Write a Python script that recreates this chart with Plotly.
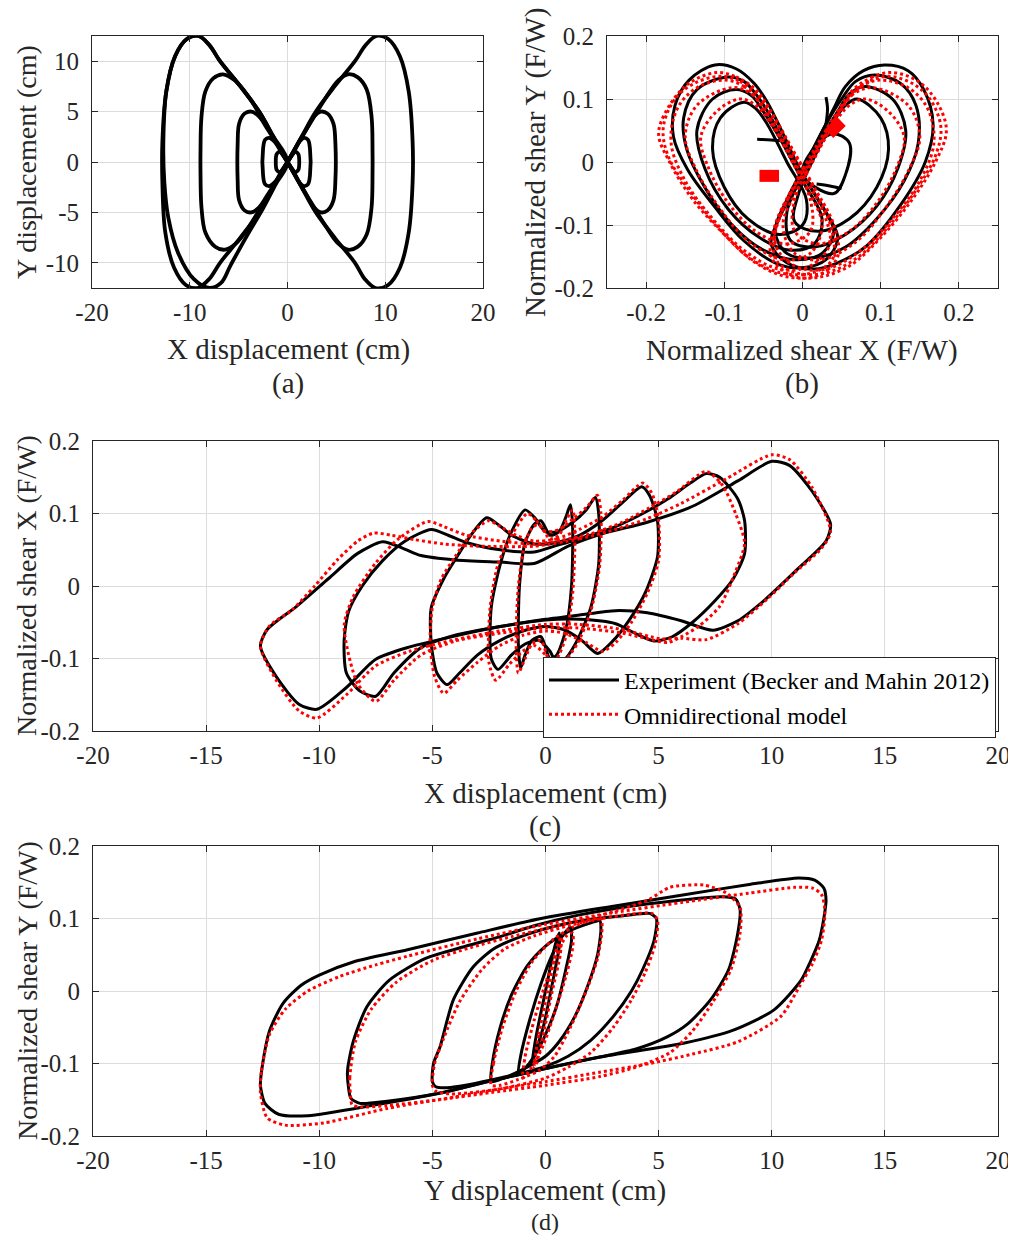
import plotly.graph_objects as go

PAGE_W, PAGE_H = 1016, 1249
BODY = 8  # default page margin around the figure
W, H = PAGE_W - BODY, PAGE_H - 2 * BODY - 4

# ---------------- Panel (a): X vs Y displacement (cm), experiment orbit ----------------
A_ORBIT_125 = [(0, 0), (1.5, 2.6), (2.9, 5.0), (4.9, 7.6), (6.9, 10.0), (8.0, 11.6), (9.1, 12.5), (10.3, 12.2),
               (11.5, 10.5), (12.4, 7.0), (12.8, 2.0), (12.8, -2.0), (12.4, -7.0), (11.5, -10.5), (10.3, -12.2),
               (9.0, -12.5), (7.9, -11.6), (6.9, -10.0), (4.9, -7.6), (2.9, -5.0), (1.5, -2.6), (0, 0),
               (-1.5, 2.6), (-2.9, 5.0), (-4.9, 7.6), (-6.9, 10.0), (-8.0, 11.6), (-9.1, 12.5), (-10.3, 12.2),
               (-11.5, 10.5), (-12.4, 7.0), (-12.8, 2.0), (-12.8, -2.0), (-12.5, -7.0), (-11.6, -10.5),
               (-10.4, -12.2), (-9.2, -12.5), (-8.0, -11.6), (-6.9, -10.0), (-4.9, -7.6), (-2.9, -5.0),
               (-1.5, -2.6), (0, 0)]
A_ORBIT_125B = [(0, 0), (-1.5, 2.6), (-2.9, 5.0), (-4.9, 7.6), (-6.9, 10.0), (-8.0, 11.6), (-9.1, 12.5),
                (-10.3, 12.2), (-11.5, 10.5), (-12.4, 7.0), (-12.7, 2.0), (-12.6, -2.0), (-12.2, -5.5),
                (-11.2, -9.0), (-9.6, -11.6), (-8.0, -12.5), (-6.8, -12.0), (-5.8, -10.2), (-4.2, -7.4),
                (-2.5, -4.6), (-1.2, -2.2), (0, 0)]
A_ORBIT_87 = [(0, 0), (1.3, 2.2), (2.6, 4.3), (4.0, 6.5), (5.2, 8.1), (6.2, 8.7), (7.2, 8.4), (8.1, 7.2),
              (8.6, 4.5), (8.7, 1.0), (8.7, -1.0), (8.6, -4.5), (8.1, -7.2), (7.2, -8.4), (6.2, -8.7),
              (5.2, -8.1), (4.0, -6.5), (2.6, -4.3), (1.3, -2.2), (0, 0), (-1.3, 2.2), (-2.6, 4.3),
              (-4.0, 6.5), (-5.4, 8.1), (-6.6, 8.7), (-7.6, 8.3), (-8.4, 7.0), (-8.8, 4.5), (-8.9, 1.0),
              (-8.9, -1.0), (-8.8, -4.5), (-8.4, -7.0), (-7.4, -8.4), (-6.4, -8.7), (-5.3, -8.1),
              (-4.0, -6.5), (-2.6, -4.3), (-1.3, -2.2), (0, 0)]
A_ORBIT_49 = [(0, 0), (0.9, 1.5), (1.9, 3.2), (2.7, 4.5), (3.4, 5.0), (4.1, 4.8), (4.7, 3.8), (4.9, 1.8),
              (4.9, -1.8), (4.7, -3.8), (4.1, -4.8), (3.4, -5.0), (2.7, -4.5), (1.9, -3.2), (0.9, -1.5), (0, 0),
              (-0.9, 1.5), (-2.0, 3.2), (-2.9, 4.5), (-3.7, 5.0), (-4.4, 4.8), (-4.95, 3.8), (-5.1, 1.8),
              (-5.1, -1.8), (-4.95, -3.8), (-4.4, -4.8), (-3.7, -5.0), (-2.9, -4.5), (-2.0, -3.2),
              (-0.9, -1.5), (0, 0)]
A_ORBIT_24 = [(0, 0), (0.6, 0.9), (1.2, 2.0), (1.7, 2.4), (2.1, 2.2), (2.3, 1.3), (2.3, -1.3), (2.1, -2.2),
              (1.7, -2.4), (1.2, -2.0), (0.6, -0.9), (0, 0), (-0.6, 0.9), (-1.3, 2.0), (-1.9, 2.4),
              (-2.3, 2.2), (-2.5, 1.3), (-2.5, -1.3), (-2.3, -2.2), (-1.9, -2.4), (-1.3, -2.0),
              (-0.6, -0.9), (0, 0)]
A_ORBIT_12 = [(0, 0), (0.4, 0.6), (0.8, 1.0), (1.1, 0.8), (1.2, 0.0), (1.1, -0.8), (0.8, -1.0), (0.4, -0.6),
              (0, 0), (-0.4, 0.6), (-0.8, 1.0), (-1.1, 0.8), (-1.2, 0.0), (-1.1, -0.8), (-0.8, -1.0),
              (-0.4, -0.6), (0, 0)]

# ---------------- Panel (b): normalized shear X vs Y (F/W) ----------------
B_EXP_L1 = [(-0.112, 0.154), (-0.085, 0.148), (-0.062, 0.125), (-0.045, 0.095), (-0.025, 0.045), (0.0, -0.02),
            (0.03, -0.08), (0.045, -0.12), (0.03, -0.155), (0.0, -0.168), (-0.03, -0.163), (-0.075, -0.125),
            (-0.113, -0.07), (-0.147, -0.012), (-0.165, 0.04), (-0.163, 0.09), (-0.145, 0.13), (-0.112, 0.154)]
B_EXP_L2 = [(-0.096, 0.135), (-0.075, 0.128), (-0.058, 0.105), (-0.04, 0.07), (-0.015, 0.01), (0.02, -0.06),
            (0.04, -0.11), (0.025, -0.145), (-0.01, -0.155), (-0.05, -0.14), (-0.09, -0.1), (-0.125, -0.04),
            (-0.148, 0.02), (-0.152, 0.07), (-0.135, 0.115), (-0.096, 0.135)]
B_EXP_L3 = [(-0.085, 0.115), (-0.065, 0.105), (-0.05, 0.08), (-0.03, 0.04), (0.0, -0.03), (0.025, -0.09),
            (0.015, -0.13), (-0.015, -0.14), (-0.055, -0.12), (-0.095, -0.075), (-0.125, -0.01),
            (-0.135, 0.05), (-0.115, 0.1), (-0.085, 0.115)]
B_EXP_L4 = [(-0.075, 0.095), (-0.06, 0.085), (-0.045, 0.06), (-0.02, 0.0), (0.005, -0.06), (0.0, -0.1),
            (-0.03, -0.115), (-0.07, -0.09), (-0.1, -0.04), (-0.115, 0.02), (-0.105, 0.07), (-0.075, 0.095)]
B_EXP_R1 = [(0.105, 0.154), (0.078, 0.145), (0.055, 0.12), (0.04, 0.085), (0.02, 0.035), (-0.005, -0.03),
            (-0.03, -0.09), (-0.04, -0.13), (-0.02, -0.16), (0.015, -0.17), (0.045, -0.16), (0.082, -0.133),
            (0.125, -0.069), (0.157, 0.0), (0.167, 0.06), (0.155, 0.115), (0.135, 0.145), (0.105, 0.154)]
B_EXP_R2 = [(0.092, 0.138), (0.068, 0.128), (0.05, 0.1), (0.03, 0.06), (0.005, 0.0), (-0.02, -0.06),
            (-0.035, -0.11), (-0.02, -0.145), (0.015, -0.152), (0.055, -0.135), (0.095, -0.09), (0.13, -0.03),
            (0.148, 0.03), (0.145, 0.09), (0.125, 0.125), (0.092, 0.138)]
B_EXP_R3 = [(0.08, 0.12), (0.06, 0.108), (0.045, 0.08), (0.025, 0.04), (0.0, -0.02), (-0.02, -0.08),
            (-0.015, -0.125), (0.015, -0.135), (0.055, -0.115), (0.095, -0.07), (0.122, -0.01), (0.132, 0.05),
            (0.115, 0.1), (0.08, 0.12)]
B_EXP_R4 = [(0.07, 0.1), (0.055, 0.09), (0.04, 0.065), (0.02, 0.02), (-0.005, -0.05), (-0.01, -0.095),
            (0.02, -0.11), (0.06, -0.09), (0.095, -0.04), (0.11, 0.02), (0.1, 0.07), (0.07, 0.1)]
B_EXP_C1 = [(0.0, -0.02), (0.02, 0.03), (0.04, 0.045), (0.06, 0.03), (0.055, -0.02), (0.04, -0.05), (0.0, -0.02)]
B_EXP_C2 = [(-0.058, 0.036), (-0.04, 0.035), (-0.02, 0.033)]
B_EXP_C3 = [(0.03, 0.06), (0.032, 0.085), (0.03, 0.103)]
B_EXP_C4 = [(0.018, -0.035), (0.035, -0.038), (0.05, -0.042)]

B_MOD_L1 = [(-0.11, 0.142), (-0.085, 0.135), (-0.06, 0.115), (-0.04, 0.08), (-0.015, 0.025), (0.015, -0.04),
            (0.04, -0.1), (0.045, -0.15), (0.02, -0.18), (-0.02, -0.182), (-0.06, -0.16), (-0.1, -0.115),
            (-0.14, -0.06), (-0.17, 0.0), (-0.184, 0.045), (-0.17, 0.09), (-0.145, 0.125), (-0.11, 0.142)]
B_MOD_L1B = [(-0.105, 0.136), (-0.08, 0.128), (-0.058, 0.108), (-0.04, 0.075), (-0.012, 0.015), (0.018, -0.05),
             (0.038, -0.11), (0.038, -0.155), (0.012, -0.176), (-0.028, -0.176), (-0.068, -0.152),
             (-0.107, -0.105), (-0.145, -0.045), (-0.172, 0.01), (-0.178, 0.055), (-0.163, 0.1),
             (-0.138, 0.125), (-0.105, 0.136)]
B_MOD_L2 = [(-0.1, 0.13), (-0.075, 0.12), (-0.055, 0.095), (-0.035, 0.055), (-0.005, -0.01), (0.025, -0.075),
            (0.035, -0.13), (0.01, -0.165), (-0.03, -0.17), (-0.075, -0.14), (-0.115, -0.09), (-0.15, -0.03),
            (-0.168, 0.03), (-0.16, 0.085), (-0.135, 0.118), (-0.1, 0.13)]
B_MOD_L3 = [(-0.09, 0.118), (-0.065, 0.108), (-0.048, 0.08), (-0.025, 0.03), (0.005, -0.04), (0.025, -0.1),
            (0.01, -0.145), (-0.025, -0.155), (-0.07, -0.125), (-0.105, -0.075), (-0.135, -0.015),
            (-0.15, 0.04), (-0.135, 0.09), (-0.09, 0.118)]
B_MOD_L4 = [(-0.08, 0.1), (-0.06, 0.09), (-0.04, 0.06), (-0.015, 0.005), (0.01, -0.06), (0.01, -0.11),
            (-0.02, -0.13), (-0.06, -0.11), (-0.095, -0.065), (-0.12, -0.01), (-0.13, 0.04), (-0.11, 0.08),
            (-0.08, 0.1)]
B_MOD_R1 = [(0.115, 0.142), (0.09, 0.135), (0.065, 0.115), (0.045, 0.08), (0.02, 0.03), (-0.01, -0.035),
            (-0.035, -0.1), (-0.04, -0.15), (-0.015, -0.18), (0.02, -0.183), (0.06, -0.165), (0.1, -0.12),
            (0.14, -0.06), (0.17, 0.0), (0.184, 0.05), (0.172, 0.095), (0.148, 0.128), (0.115, 0.142)]
B_MOD_R1B = [(0.11, 0.136), (0.085, 0.128), (0.062, 0.108), (0.044, 0.075), (0.015, 0.015), (-0.015, -0.05),
             (-0.035, -0.11), (-0.034, -0.155), (-0.008, -0.176), (0.03, -0.176), (0.07, -0.152),
             (0.108, -0.105), (0.145, -0.045), (0.17, 0.01), (0.177, 0.055), (0.163, 0.1), (0.14, 0.125),
             (0.11, 0.136)]
B_MOD_R2 = [(0.1, 0.13), (0.075, 0.12), (0.055, 0.095), (0.035, 0.055), (0.005, -0.01), (-0.025, -0.075),
            (-0.035, -0.13), (-0.01, -0.165), (0.03, -0.17), (0.075, -0.14), (0.115, -0.09), (0.15, -0.03),
            (0.168, 0.03), (0.16, 0.085), (0.135, 0.118), (0.1, 0.13)]
B_MOD_R3 = [(0.09, 0.118), (0.065, 0.108), (0.048, 0.08), (0.025, 0.03), (-0.005, -0.04), (-0.025, -0.1),
            (-0.01, -0.145), (0.025, -0.155), (0.07, -0.125), (0.105, -0.075), (0.135, -0.015), (0.15, 0.04),
            (0.135, 0.09), (0.09, 0.118)]
B_MOD_R4 = [(0.08, 0.1), (0.06, 0.09), (0.04, 0.06), (0.015, 0.005), (-0.01, -0.06), (-0.01, -0.11),
            (0.02, -0.13), (0.06, -0.11), (0.095, -0.065), (0.12, -0.01), (0.13, 0.04), (0.11, 0.08), (0.08, 0.1)]
B_MOD_BLOB1 = [(-0.055, -0.022), (-0.03, -0.022)]
B_MOD_BLOB2 = [(0.034, 0.045), (0.05, 0.064)]

# ---------------- Panel (c): X displacement (cm) vs normalized shear X ----------------
C_EXP_125 = [(-0.5, 0.031), (1.0, 0.055), (2.5, 0.072), (4.5, 0.088), (6.5, 0.11), (8.5, 0.145), (10.0, 0.172),
             (10.8, 0.166), (11.8, 0.13), (12.6, 0.085), (12.4, 0.062), (11.2, 0.025), (9.7, -0.019),
             (8.5, -0.048), (7.4, -0.061), (6.0, -0.048), (4.5, -0.037), (3.1, -0.034), (1.5, -0.04),
             (0.0, -0.046), (-2.0, -0.056), (-4.0, -0.069), (-6.0, -0.084), (-7.5, -0.101), (-8.8, -0.14),
             (-10.1, -0.17), (-10.9, -0.163), (-11.9, -0.125), (-12.6, -0.083), (-12.3, -0.06), (-11.0, -0.028),
             (-9.6, 0.01), (-8.3, 0.045), (-7.2, 0.061), (-6.3, 0.052), (-5.5, 0.042), (-4.0, 0.036),
             (-2.0, 0.033), (-0.5, 0.031)]
C_EXP_87 = [(-0.5, 0.047), (0.5, 0.056), (2.0, 0.07), (3.1, 0.082), (4.3, 0.1), (5.4, 0.12), (6.4, 0.142),
            (7.1, 0.155), (7.7, 0.15), (8.5, 0.12), (8.8, 0.09), (8.8, 0.045), (8.3, 0.01), (7.5, -0.02),
            (6.5, -0.05), (5.6, -0.07), (4.8, -0.076), (4.0, -0.066), (3.1, -0.052), (1.5, -0.046),
            (0.0, -0.047), (-2.0, -0.056), (-4.0, -0.068), (-5.5, -0.085), (-6.7, -0.12), (-7.5, -0.152),
            (-8.2, -0.145), (-8.8, -0.12), (-8.9, -0.075), (-8.7, -0.035), (-8.1, 0.0), (-7.2, 0.035),
            (-6.2, 0.062), (-5.05, 0.078), (-4.3, 0.07), (-3.5, 0.06), (-2.0, 0.05), (-0.5, 0.047)]
C_EXP_49 = [(-0.5, 0.058), (0.5, 0.06), (1.5, 0.07), (2.5, 0.09), (3.4, 0.115), (4.25, 0.137), (4.6, 0.125),
            (4.95, 0.09), (4.95, 0.04), (4.4, -0.01), (3.7, -0.047), (3.0, -0.075), (2.3, -0.093),
            (1.6, -0.075), (0.8, -0.06), (0.0, -0.056), (-1.0, -0.062), (-2.0, -0.075), (-3.0, -0.095),
            (-3.8, -0.12), (-4.35, -0.136), (-4.8, -0.12), (-5.05, -0.08), (-5.05, -0.03), (-4.5, 0.01),
            (-4.0, 0.036), (-3.3, 0.07), (-2.6, 0.094), (-2.1, 0.085), (-1.5, 0.07), (-0.5, 0.058)]
C_EXP_24 = [(-0.9, 0.105), (-0.5, 0.095), (0.0, 0.075), (0.5, 0.075), (1.2, 0.088), (1.8, 0.105), (2.2, 0.122),
            (2.35, 0.1), (2.35, 0.03), (2.0, -0.03), (1.4, -0.075), (0.9, -0.1), (0.55, -0.11), (0.2, -0.09),
            (-0.3, -0.075), (-0.9, -0.08), (-1.5, -0.095), (-2.1, -0.115), (-2.4, -0.1), (-2.4, -0.03),
            (-2.0, 0.03), (-1.5, 0.075), (-0.9, 0.105)]
C_EXP_12 = [(-0.2, 0.09), (0.2, 0.07), (0.6, 0.075), (0.9, 0.095), (1.1, 0.112), (1.2, 0.08), (1.15, 0.0),
            (0.9, -0.06), (0.5, -0.095), (0.2, -0.1), (-0.2, -0.07), (-0.6, -0.075), (-0.9, -0.095),
            (-1.1, -0.113), (-1.2, -0.08), (-1.15, 0.0), (-0.9, 0.06), (-0.5, 0.085), (-0.2, 0.09)]

C_MOD_125 = [(-0.5, 0.055), (1.5, 0.065), (3.1, 0.078), (4.5, 0.093), (6.0, 0.114), (8.0, 0.148), (10.0, 0.181),
             (10.8, 0.174), (11.8, 0.135), (12.6, 0.075), (12.2, 0.052), (11.0, 0.018), (9.8, -0.018),
             (8.5, -0.052), (7.1, -0.074), (6.0, -0.072), (5.1, -0.073), (3.4, -0.06), (1.5, -0.053),
             (0.0, -0.053), (-2.0, -0.062), (-4.0, -0.074), (-6.0, -0.09), (-7.5, -0.11), (-8.8, -0.15),
             (-10.1, -0.182), (-10.9, -0.172), (-11.9, -0.13), (-12.6, -0.083), (-12.2, -0.055),
             (-11.2, -0.033), (-10.2, 0.0), (-9.2, 0.036), (-8.3, 0.062), (-7.6, 0.073), (-6.8, 0.07),
             (-5.8, 0.064), (-4.5, 0.058), (-3.0, 0.055), (-0.5, 0.055)]
C_MOD_87 = [(-0.5, 0.058), (0.5, 0.062), (2.0, 0.072), (3.4, 0.088), (4.6, 0.108), (5.8, 0.13), (7.1, 0.158),
            (7.8, 0.14), (8.4, 0.1), (8.8, 0.059), (8.4, 0.02), (7.7, -0.028), (6.8, -0.055), (6.0, -0.07),
            (5.4, -0.078), (4.4, -0.072), (3.4, -0.065), (1.5, -0.058), (0.0, -0.058), (-2.0, -0.065),
            (-4.0, -0.076), (-5.5, -0.095), (-6.7, -0.13), (-7.5, -0.159), (-8.3, -0.135), (-8.9, -0.055),
            (-8.5, -0.015), (-7.5, 0.032), (-6.5, 0.065), (-5.2, 0.089), (-4.5, 0.082), (-3.5, 0.07),
            (-2.0, 0.062), (-0.5, 0.058)]
C_MOD_49 = [(-0.5, 0.062), (0.5, 0.065), (1.5, 0.078), (2.5, 0.095), (3.4, 0.118), (4.3, 0.142), (4.7, 0.128),
            (5.0, 0.09), (5.0, 0.035), (4.5, -0.01), (3.8, -0.05), (3.1, -0.078), (2.5, -0.09), (1.8, -0.078),
            (0.8, -0.065), (0.0, -0.062), (-1.0, -0.068), (-2.0, -0.082), (-3.0, -0.105), (-3.9, -0.13),
            (-4.5, -0.148), (-4.9, -0.125), (-5.1, -0.08), (-5.0, -0.03), (-4.6, 0.01), (-4.0, 0.04),
            (-3.2, 0.075), (-2.5, 0.09), (-2.0, 0.082), (-1.3, 0.07), (-0.5, 0.062)]
C_MOD_24 = [(-0.8, 0.1), (-0.4, 0.09), (0.0, 0.075), (0.6, 0.078), (1.2, 0.092), (1.8, 0.108), (2.3, 0.125),
            (2.45, 0.1), (2.4, 0.03), (2.0, -0.035), (1.4, -0.08), (0.8, -0.105), (0.4, -0.112), (0.0, -0.095),
            (-0.5, -0.082), (-1.0, -0.09), (-1.6, -0.108), (-2.2, -0.13), (-2.5, -0.105), (-2.45, -0.03),
            (-2.1, 0.03), (-1.5, 0.07), (-0.8, 0.1)]
C_MOD_12 = [(-0.3, 0.085), (0.2, 0.065), (0.6, 0.07), (0.9, 0.09), (1.2, 0.105), (1.3, 0.07), (1.2, -0.01),
            (0.9, -0.07), (0.5, -0.1), (0.2, -0.105), (-0.2, -0.075), (-0.6, -0.08), (-0.9, -0.1),
            (-1.2, -0.12), (-1.3, -0.08), (-1.2, 0.0), (-0.9, 0.06), (-0.6, 0.08), (-0.3, 0.085)]

# ---------------- Panel (d): Y displacement (cm) vs normalized shear Y ----------------
D_EXP_125 = [(-12.6, -0.13), (-12.5, -0.1), (-12.2, -0.055), (-11.6, -0.017), (-10.8, 0.008), (-10.0, 0.022),
             (-8.5, 0.04), (-6.1, 0.057), (-3.0, 0.08), (-0.2, 0.1), (3.0, 0.117), (6.0, 0.132), (9.0, 0.147),
             (11.2, 0.156), (11.9, 0.153), (12.3, 0.142), (12.4, 0.125), (12.3, 0.1), (12.1, 0.07),
             (11.7, 0.04), (11.3, 0.015), (10.1, -0.026), (8.3, -0.054), (6.1, -0.072), (2.4, -0.091),
             (0.0, -0.107), (-2.4, -0.124), (-4.7, -0.141), (-7.5, -0.157), (-10.5, -0.172), (-11.8, -0.17),
             (-12.4, -0.155), (-12.6, -0.13)]
D_EXP_87 = [(-8.7, -0.135), (-8.75, -0.11), (-8.5, -0.07), (-7.9, -0.022), (-6.9, 0.015), (-5.3, 0.045),
            (-3.5, 0.062), (-2.0, 0.075), (-0.5, 0.09), (1.5, 0.105), (4.0, 0.118), (6.5, 0.127), (7.8, 0.13),
            (8.4, 0.127), (8.6, 0.112), (8.5, 0.08), (8.1, 0.03), (7.3, -0.012), (6.3, -0.045), (5.4, -0.063),
            (4.0, -0.08), (2.4, -0.091), (0.0, -0.107), (-2.4, -0.124), (-4.7, -0.141), (-7.0, -0.152),
            (-8.2, -0.155), (-8.6, -0.148), (-8.7, -0.135)]
D_EXP_50 = [(-5.0, -0.125), (-4.95, -0.1), (-4.66, -0.077), (-4.07, -0.012), (-3.2, 0.033), (-2.3, 0.058),
            (-1.0, 0.076), (0.5, 0.09), (2.0, 0.099), (3.5, 0.104), (4.6, 0.107), (4.9, 0.1), (4.8, 0.07),
            (4.3, 0.03), (3.8, 0.0), (3.0, -0.035), (2.0, -0.068), (1.0, -0.09), (0.0, -0.104), (-2.0, -0.12),
            (-4.2, -0.133), (-4.85, -0.132), (-5.0, -0.125)]
D_EXP_24 = [(-2.4, -0.125), (-2.35, -0.1), (-2.0, -0.05), (-1.5, -0.005), (-0.8, 0.035), (0.0, 0.062),
            (1.0, 0.082), (2.0, 0.094), (2.4, 0.097), (2.45, 0.085), (2.3, 0.05), (1.9, 0.01), (1.3, -0.035),
            (0.6, -0.07), (0.0, -0.09), (-1.0, -0.108), (-2.0, -0.122), (-2.4, -0.125)]
D_EXP_12 = [(-1.2, -0.115), (-1.1, -0.09), (-0.7, -0.04), (-0.2, 0.01), (0.3, 0.05), (0.8, 0.078), (1.1, 0.088),
            (1.15, 0.07), (0.9, 0.03), (0.5, -0.02), (0.0, -0.06), (-0.5, -0.09), (-1.0, -0.11), (-1.2, -0.115)]
D_EXP_06 = [(-0.6, -0.1), (-0.4, -0.06), (0.0, 0.0), (0.4, 0.06), (0.6, 0.08), (0.6, 0.06), (0.3, 0.01),
            (-0.1, -0.05), (-0.5, -0.09), (-0.6, -0.1)]

D_MOD_125 = [(-12.6, -0.14), (-12.55, -0.11), (-12.2, -0.06), (-11.5, -0.025), (-10.5, 0.0), (-9.1, 0.02),
             (-7.5, 0.036), (-6.1, 0.048), (-3.0, 0.072), (0.0, 0.092), (3.0, 0.108), (6.0, 0.122),
             (9.0, 0.135), (11.0, 0.143), (11.8, 0.142), (12.2, 0.133), (12.35, 0.11), (12.2, 0.07),
             (11.8, 0.038), (11.2, 0.005), (10.4, -0.035), (8.5, -0.07), (6.5, -0.087), (4.6, -0.1),
             (2.4, -0.112), (0.0, -0.125), (-2.0, -0.135), (-4.0, -0.146), (-7.0, -0.162), (-9.8, -0.182),
             (-11.5, -0.185), (-12.3, -0.175), (-12.6, -0.14)]
D_MOD_87 = [(-8.6, -0.15), (-8.65, -0.12), (-8.4, -0.07), (-7.7, -0.025), (-6.6, 0.012), (-5.0, 0.042),
            (-3.3, 0.06), (-1.5, 0.075), (0.5, 0.09), (2.5, 0.105), (4.5, 0.125), (5.5, 0.143), (7.0, 0.146),
            (8.0, 0.135), (8.6, 0.115), (8.6, 0.08), (8.2, 0.03), (7.4, -0.015), (6.5, -0.055), (5.5, -0.085),
            (4.0, -0.105), (2.4, -0.118), (0.0, -0.13), (-2.4, -0.14), (-4.7, -0.15), (-7.0, -0.158),
            (-8.2, -0.16), (-8.55, -0.157), (-8.6, -0.15)]
D_MOD_50 = [(-5.0, -0.13), (-4.9, -0.1), (-4.5, -0.065), (-3.8, -0.015), (-2.8, 0.03), (-1.8, 0.058),
            (-0.5, 0.076), (1.0, 0.09), (2.5, 0.1), (3.8, 0.106), (4.7, 0.107), (4.95, 0.098), (4.85, 0.065),
            (4.4, 0.025), (3.8, -0.012), (3.0, -0.05), (2.0, -0.085), (1.0, -0.105), (0.0, -0.12),
            (-2.0, -0.135), (-4.2, -0.142), (-4.85, -0.138), (-5.0, -0.13)]
D_MOD_24 = [(-2.4, -0.13), (-2.3, -0.1), (-1.9, -0.05), (-1.3, 0.0), (-0.6, 0.04), (0.3, 0.07), (1.2, 0.088),
            (2.0, 0.098), (2.45, 0.1), (2.5, 0.085), (2.3, 0.045), (1.8, 0.0), (1.1, -0.05), (0.4, -0.09),
            (-0.3, -0.11), (-1.2, -0.122), (-2.0, -0.13), (-2.4, -0.13)]
D_MOD_12 = [(-1.0, -0.12), (-0.9, -0.09), (-0.5, -0.04), (0.0, 0.01), (0.5, 0.05), (0.9, 0.075), (1.2, 0.08),
            (1.2, 0.06), (0.9, 0.02), (0.4, -0.03), (-0.1, -0.075), (-0.6, -0.105), (-1.0, -0.12)]
D_MOD_06 = [(-0.5, -0.105), (-0.3, -0.06), (0.1, 0.0), (0.5, 0.06), (0.7, 0.075), (0.65, 0.05), (0.3, 0.0),
            (-0.1, -0.06), (-0.4, -0.1), (-0.5, -0.105)]

# tick labels
DISP_TICKS = [-20, -10, 0, 10, 20]
DISP_TICKS5 = [-20, -15, -10, -5, 0, 5, 10, 15, 20]
YDISP_TICKS = [-10, -5, 0, 5, 10]
SHEAR_TICKS = [-0.2, -0.1, 0, 0.1, 0.2]
SHEAR_LABELS = ["-0.2", "-0.1", "0", "0.1", "0.2"]

EXP_NAME = "Experiment (Becker and Mahin 2012)"
MOD_NAME = "Omnidirectional model"

FONT = "Liberation Serif"
TXT = "#262626"

fig = go.Figure()


def add_loops(loops, xa, ya, color, dash, width, smoothing=0.8, legend_name=None, rank=1000):
    for i, pts in enumerate(loops):
        fig.add_trace(go.Scatter(
            x=[p[0] for p in pts], y=[p[1] for p in pts], mode="lines",
            line=dict(color=color, width=width, dash=dash, shape="spline", smoothing=smoothing),
            xaxis=xa, yaxis=ya, hoverinfo="skip",
            name=legend_name if legend_name else "",
            showlegend=bool(legend_name) and i == 0, legendrank=rank))


# panel a
add_loops([A_ORBIT_125, A_ORBIT_125B, A_ORBIT_87, A_ORBIT_49, A_ORBIT_24, A_ORBIT_12],
          "x", "y", "black", "solid", 3.8, smoothing=1.0)
# panel b
add_loops([B_EXP_L1, B_EXP_L2, B_EXP_L3, B_EXP_L4, B_EXP_R1, B_EXP_R2, B_EXP_R3, B_EXP_R4,
           B_EXP_C1, B_EXP_C2, B_EXP_C3, B_EXP_C4], "x2", "y2", "black", "solid", 3, smoothing=1.0)
add_loops([B_MOD_L1, B_MOD_L1B, B_MOD_L2, B_MOD_L3, B_MOD_L4, B_MOD_R1, B_MOD_R1B, B_MOD_R2, B_MOD_R3, B_MOD_R4],
          "x2", "y2", "red", "dot", 3, smoothing=1.0)
add_loops([B_MOD_BLOB1, B_MOD_BLOB2], "x2", "y2", "red", "solid", 12, smoothing=0)
# panel c
add_loops([C_EXP_125, C_EXP_87, C_EXP_49, C_EXP_24, C_EXP_12], "x3", "y3", "black", "solid", 3,
          smoothing=0.7, legend_name=EXP_NAME, rank=1)
add_loops([C_MOD_125, C_MOD_87, C_MOD_49, C_MOD_24, C_MOD_12], "x3", "y3", "red", "dot", 3,
          smoothing=0.7, legend_name=MOD_NAME, rank=2)
# panel d
add_loops([D_EXP_125, D_EXP_87, D_EXP_50, D_EXP_24, D_EXP_12, D_EXP_06], "x4", "y4", "black", "solid", 3,
          smoothing=0.7)
add_loops([D_MOD_125, D_MOD_87, D_MOD_50, D_MOD_24, D_MOD_12, D_MOD_06], "x4", "y4", "red", "dot", 3,
          smoothing=0.7)


def fx(p):
    """page pixel -> paper fraction"""
    return (p - BODY) / W


def fy(p):
    return 1 - (p - BODY) / H


axis_common = dict(showline=True, linecolor=TXT, linewidth=1, mirror="ticks", ticks="inside", ticklen=6,
                   tickcolor=TXT, showgrid=True, gridcolor="#dcdcdc", gridwidth=1, zeroline=False,
                   tickfont=dict(family=FONT, size=25, color=TXT), fixedrange=True, automargin=False,
                   ticklabeloverflow="allow")
xcommon = dict(ticklabelstandoff=2, **axis_common)
ycommon = dict(ticklabelstandoff=7, **axis_common)

layout = dict(
    width=W, height=H, autosize=False, margin=dict(l=0, r=0, t=0, b=0, pad=0, autoexpand=False),
    paper_bgcolor="white", plot_bgcolor="white",
    xaxis=dict(domain=[fx(92), fx(483)], range=[-20, 20], tickvals=DISP_TICKS,
               ticktext=[str(v) for v in DISP_TICKS], anchor="y", **xcommon),
    yaxis=dict(domain=[fy(288), fy(36)], range=[-12.5, 12.5], tickvals=YDISP_TICKS,
               ticktext=[str(v) for v in YDISP_TICKS], anchor="x", **ycommon),
    xaxis2=dict(domain=[fx(607), fx(998)], range=[-0.25, 0.25], tickvals=SHEAR_TICKS, ticktext=SHEAR_LABELS,
                anchor="y2", **xcommon),
    yaxis2=dict(domain=[fy(288), fy(36)], range=[-0.2, 0.2], tickvals=SHEAR_TICKS, ticktext=SHEAR_LABELS,
                anchor="x2", **ycommon),
    xaxis3=dict(domain=[fx(93), fx(998)], range=[-20, 20], tickvals=DISP_TICKS5,
                ticktext=[str(v) for v in DISP_TICKS5], anchor="y3", **xcommon),
    yaxis3=dict(domain=[fy(731), fy(441)], range=[-0.2, 0.2], tickvals=SHEAR_TICKS, ticktext=SHEAR_LABELS,
                anchor="x3", **ycommon),
    xaxis4=dict(domain=[fx(93), fx(998)], range=[-20, 20], tickvals=DISP_TICKS5,
                ticktext=[str(v) for v in DISP_TICKS5], anchor="y4", **xcommon),
    yaxis4=dict(domain=[fy(1136), fy(846)], range=[-0.2, 0.2], tickvals=SHEAR_TICKS, ticktext=SHEAR_LABELS,
                anchor="x4", **ycommon),
    legend=dict(x=fx(543), y=fy(657), xanchor="left", yanchor="top", bgcolor="white", bordercolor=TXT,
                borderwidth=1, font=dict(family=FONT, size=24, color="black"), itemwidth=70,
                tracegroupgap=0),
    showlegend=True,
)
fig.update_layout(**layout)

annots = [
    ("X displacement (cm)", 288, 349, 0, 29),
    ("(a)", 288, 383, 0, 29),
    ("Y displacement (cm)", 27, 162, -90, 28),
    ("Normalized shear X (F/W)", 802, 350, 0, 29),
    ("(b)", 802, 383, 0, 29),
    ("Normalized shear Y (F/W)", 535, 163, -90, 29),
    ("X displacement (cm)", 545, 793, 0, 29),
    ("(c)", 545, 826, 0, 29),
    ("Normalized shear X (F/W)", 27, 586, -90, 28),
    ("Y displacement (cm)", 545, 1190, 0, 29),
    ("(d)", 545, 1222, 0, 24),
    ("Normalized shear Y (F/W)", 27, 991, -90, 28),
]
for text, px, py, ang, size in annots:
    fig.add_annotation(text=text, x=fx(px), y=fy(py), xref="paper", yref="paper", xanchor="center",
                       yanchor="middle", showarrow=False, textangle=ang,
                       font=dict(family=FONT, size=size, color=TXT))

fig.write_html("out.html")
